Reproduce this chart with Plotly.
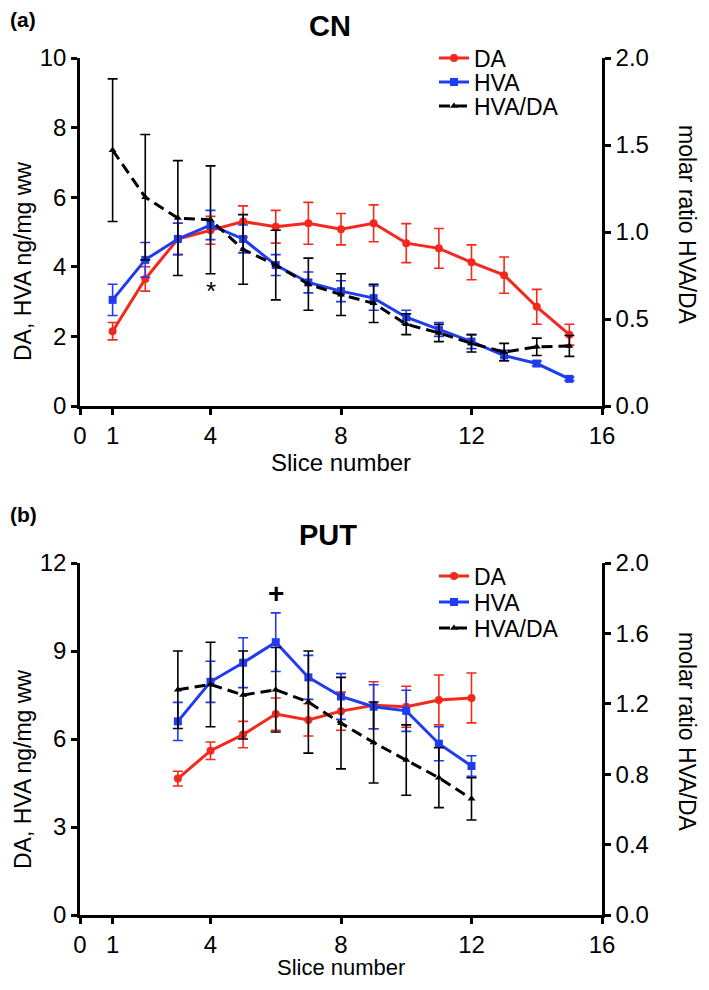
import plotly.graph_objects as go

# ---------------- data: CN (panel a) ----------------
cn_slice = [1, 2, 3, 4, 5, 6, 7, 8, 9, 10, 11, 12, 13, 14, 15]
cn_da = [2.15, 3.65, 4.8, 5.05, 5.3, 5.15, 5.25, 5.08, 5.25, 4.68, 4.53, 4.13, 3.76, 2.85, 2.05]
cn_da_err = [0.25, 0.35, 0.45, 0.4, 0.45, 0.47, 0.6, 0.45, 0.53, 0.56, 0.57, 0.5, 0.52, 0.5, 0.3]
cn_hva = [3.05, 4.2, 4.8, 5.2, 4.8, 4.05, 3.55, 3.3, 3.1, 2.55, 2.2, 1.85, 1.45, 1.22, 0.78]
cn_hva_err = [0.45, 0.5, 0.45, 0.42, 0.4, 0.3, 0.3, 0.3, 0.35, 0.2, 0.2, 0.2, 0.15, 0.07, 0.05]
cn_ratio = [1.47, 1.2, 1.08, 1.07, 0.9, 0.81, 0.70, 0.64, 0.59, 0.47, 0.42, 0.36, 0.31, 0.34, 0.345]
cn_ratio_err = [0.41, 0.36, 0.33, 0.31, 0.2, 0.2, 0.15, 0.12, 0.11, 0.06, 0.05, 0.05, 0.05, 0.05, 0.06]

# ---------------- data: PUT (panel b) ----------------
put_slice = [3, 4, 5, 6, 7, 8, 9, 10, 11, 12]
put_da = [4.65, 5.6, 6.15, 6.85, 6.65, 6.95, 7.15, 7.1, 7.33, 7.4]
put_da_err = [0.25, 0.3, 0.45, 0.55, 0.55, 0.65, 0.8, 0.7, 0.85, 0.85]
put_hva = [6.6, 7.95, 8.6, 9.3, 8.1, 7.45, 7.1, 6.96, 5.84, 5.08]
put_hva_err = [0.65, 0.7, 0.85, 1.0, 0.75, 0.78, 0.75, 0.7, 0.58, 0.35]
put_ratio = [1.28, 1.31, 1.25, 1.28, 1.21, 1.09, 0.98, 0.88, 0.78, 0.66]
put_ratio_err = [0.22, 0.24, 0.25, 0.24, 0.29, 0.26, 0.23, 0.2, 0.17, 0.12]

series_names = ["DA", "HVA", "HVA/DA"]
x_ticks = [0, 1, 4, 8, 12, 16]
cn_left_ticks = [0, 2, 4, 6, 8, 10]
cn_right_ticks = [0.0, 0.5, 1.0, 1.5, 2.0]
put_left_ticks = [0, 3, 6, 9, 12]
put_right_ticks = [0.0, 0.4, 0.8, 1.2, 1.6, 2.0]

RED = "#f5281e"
BLUE = "#1f3cf0"
BLACK = "#000000"
FONT = "Liberation Sans, Arial, sans-serif"

# page body has an 8px margin: build the figure 16px smaller and offset all layout pixels
OFF = 8
W, H = 709 - 2 * OFF, 990 - 2 * OFF
def px(x):
    return (x - OFF) / W
def py(y):
    return 1 - (y - OFF) / H

fig = go.Figure()

def add_panel(xs, da, da_e, hva, hva_e, ratio, ratio_e, xa, ya, ya2, legends):
    fig.add_trace(go.Scatter(
        x=xs, y=da, name=series_names[0], mode="lines+markers", xaxis=xa, yaxis=ya, legend=legends[0],
        line=dict(color=RED, width=3), marker=dict(symbol="circle", size=8, color=RED),
        error_y=dict(type="data", array=da_e, color=RED, thickness=1.6, width=5)))
    fig.add_trace(go.Scatter(
        x=xs, y=hva, name=series_names[1], mode="lines+markers", xaxis=xa, yaxis=ya, legend=legends[1],
        line=dict(color=BLUE, width=3), marker=dict(symbol="square", size=8, color=BLUE),
        error_y=dict(type="data", array=hva_e, color=BLUE, thickness=1.6, width=5)))
    fig.add_trace(go.Scatter(
        x=xs, y=ratio, name=series_names[2], mode="lines+markers", xaxis=xa, yaxis=ya2, legend=legends[2],
        line=dict(color=BLACK, width=3, dash="11px,6px"), marker=dict(symbol="triangle-up", size=7, color=BLACK),
        error_y=dict(type="data", array=ratio_e, color=BLACK, thickness=1.6, width=5)))

add_panel(cn_slice, cn_da, cn_da_err, cn_hva, cn_hva_err, cn_ratio, cn_ratio_err, "x", "y", "y2",
          ["legend", "legend2", "legend3"])
add_panel(put_slice, put_da, put_da_err, put_hva, put_hva_err, put_ratio, put_ratio_err, "x2", "y3", "y4",
          ["legend4", "legend5", "legend6"])

L, R = 80, 602
top_a, bot_a = 58, 406
top_b, bot_b = 563, 915

axis_common = dict(showline=True, linecolor="black", linewidth=2.5, ticks="outside",
                   ticklen=6, tickwidth=2.5, tickcolor="black", showgrid=False, zeroline=False,
                   automargin=False,
                   tickfont=dict(family=FONT, size=24, color="black"))

def leg(yc):
    return dict(x=px(434), y=py(yc), xanchor="left", yanchor="middle", bgcolor="rgba(0,0,0,0)",
                font=dict(family=FONT, size=23, color="black"), itemwidth=30)

fig.update_layout(
    width=W, height=H, margin=dict(l=0, r=0, t=0, b=0, autoexpand=False),
    plot_bgcolor="white", paper_bgcolor="white",
    font=dict(family=FONT, color="black"),
    xaxis=dict(domain=[px(L), px(R)], range=[0, 16], tickvals=x_ticks, anchor="y", **axis_common),
    yaxis=dict(domain=[py(bot_a), py(top_a)], range=[0, 10], tickvals=cn_left_ticks, anchor="x", **axis_common),
    yaxis2=dict(range=[0, 2], tickvals=cn_right_ticks, tickformat=".1f", overlaying="y", side="right",
                anchor="x", **axis_common),
    xaxis2=dict(domain=[px(L), px(R)], range=[0, 16], tickvals=x_ticks, anchor="y3", **axis_common),
    yaxis3=dict(domain=[py(bot_b), py(top_b)], range=[0, 12], tickvals=put_left_ticks, anchor="x2", **axis_common),
    yaxis4=dict(range=[0, 2], tickvals=put_right_ticks, tickformat=".1f", overlaying="y3", side="right",
                anchor="x2", **axis_common),
    legend=leg(58), legend2=leg(82), legend3=leg(106),
    legend4=leg(576), legend5=leg(602), legend6=leg(628),
    showlegend=True,
)

ann = []
def text(x, y, s, size, bold=False, angle=0, xref="paper", yref="paper", xanchor="center", yanchor="middle"):
    ann.append(dict(x=x, y=y, xref=xref, yref=yref, text=f"<b>{s}</b>" if bold else s, showarrow=False,
                    textangle=angle, xanchor=xanchor, yanchor=yanchor,
                    font=dict(family=FONT, size=size, color="black")))

# panel a texts
text(px(8), py(20), "(a)", 21, bold=True, xanchor="left")
text(px(330), py(26), "CN", 29, bold=True)
text(px(23), py(262), "DA, HVA ng/mg ww", 23, angle=-90)
text(px(687), py(225), "molar ratio HVA/DA", 23, angle=90)
text(px(341), py(463), "Slice number", 24)
text(4, 3.3, "*", 26, xref="x", yref="y")
# panel b texts
text(px(8), py(514), "(b)", 21, bold=True, xanchor="left")
text(px(328), py(535), "PUT", 29, bold=True)
text(px(23), py(770), "DA, HVA ng/mg ww", 23, angle=-90)
text(px(687), py(732), "molar ratio HVA/DA", 23, angle=90)
text(px(341), py(967), "Slice number", 22)
text(6, 10.95, "+", 28, bold=True, xref="x2", yref="y3")

fig.update_layout(annotations=ann)
fig.write_html("out.html")
